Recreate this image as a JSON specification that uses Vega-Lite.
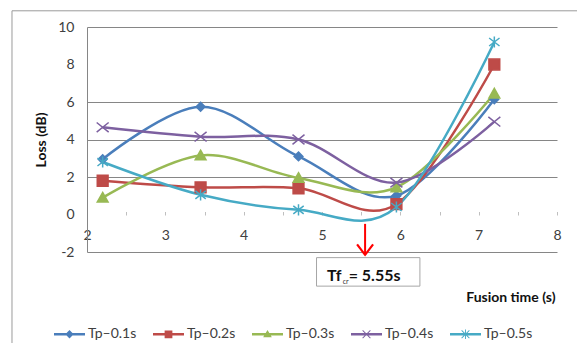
{
  "$schema": "https://vega.github.io/schema/vega-lite/v6.json",
  "width": 470,
  "height": 225,
  "autosize": {"type": "none"},
  "padding": {"left": 87, "top": 27, "right": 20, "bottom": 91},
  "background": "white",
  "config": {
    "view": {"stroke": null},
    "font": "Lato",
    "axis": {"labelFont": "Lato", "labelFontSize": 14, "labelColor": "#404040", "titleFont": "Lato", "titleFontSize": 14, "titleFontWeight": "bold", "titleColor": "#111111"}
  },
  "data": {
    "values": [
      {"series": "Tp–0.1s", "time": 2.2, "loss": 2.95},
      {"series": "Tp–0.1s", "time": 3.45, "loss": 5.75},
      {"series": "Tp–0.1s", "time": 4.7, "loss": 3.1},
      {"series": "Tp–0.1s", "time": 5.95, "loss": 1.0},
      {"series": "Tp–0.1s", "time": 7.2, "loss": 6.15},
      {"series": "Tp–0.2s", "time": 2.2, "loss": 1.8},
      {"series": "Tp–0.2s", "time": 3.45, "loss": 1.45},
      {"series": "Tp–0.2s", "time": 4.7, "loss": 1.4},
      {"series": "Tp–0.2s", "time": 5.95, "loss": 0.55},
      {"series": "Tp–0.2s", "time": 7.2, "loss": 8.0},
      {"series": "Tp–0.3s", "time": 2.2, "loss": 0.9},
      {"series": "Tp–0.3s", "time": 3.45, "loss": 3.15},
      {"series": "Tp–0.3s", "time": 4.7, "loss": 1.95},
      {"series": "Tp–0.3s", "time": 5.95, "loss": 1.45},
      {"series": "Tp–0.3s", "time": 7.2, "loss": 6.45},
      {"series": "Tp–0.4s", "time": 2.2, "loss": 4.65},
      {"series": "Tp–0.4s", "time": 3.45, "loss": 4.15},
      {"series": "Tp–0.4s", "time": 4.7, "loss": 4.0},
      {"series": "Tp–0.4s", "time": 5.95, "loss": 1.7},
      {"series": "Tp–0.4s", "time": 7.2, "loss": 4.95},
      {"series": "Tp–0.5s", "time": 2.2, "loss": 2.8},
      {"series": "Tp–0.5s", "time": 3.45, "loss": 1.05},
      {"series": "Tp–0.5s", "time": 4.7, "loss": 0.25},
      {"series": "Tp–0.5s", "time": 5.95, "loss": 0.4},
      {"series": "Tp–0.5s", "time": 7.2, "loss": 9.2}
    ]
  },
  "encoding": {
    "x": {
      "field": "time", "type": "quantitative",
      "scale": {"domain": [2, 8], "nice": false, "zero": false},
      "axis": {
        "values": [2, 2.5, 3, 3.5, 4, 4.5, 5, 5.5, 6, 6.5, 7, 7.5, 8],
        "labelExpr": "datum.value % 1 === 0 ? '' + datum.value : ''",
        "offset": -40.5,
        "domain": false,
        "grid": false,
        "tickColor": "#bfbfbf",
        "tickSize": 3.5,
        "labelPadding": 13,
        "labelFlush": false,
        "title": "Fusion time (s)",
        "titleX": 468,
        "titleY": 86,
        "titleAlign": "right",
        "titleAnchor": "end",
        "titleBaseline": "middle"
      }
    },
    "y": {
      "field": "loss", "type": "quantitative",
      "scale": {"domain": [-2, 10], "nice": false, "zero": false},
      "axis": {
        "values": [-2, 0, 2, 4, 6, 8, 10],
        "labelExpr": "'' + datum.value",
        "ticks": false,
        "labelPadding": 13,
        "domainColor": "#868686",
        "grid": true,
        "gridColor": {"condition": {"test": "datum.value == 0 || datum.value == 8", "value": "rgba(0,0,0,0)"}, "value": "#868686"},
        "gridWidth": 1,
        "title": "Loss (dB)",
        "titleX": -46,
        "titleY": 112.5,
        "titleAngle": 270,
        "titleAlign": "center",
        "titleBaseline": "middle"
      }
    }
  },
  "layer": [
    {
      "transform": [{"filter": "datum.series == 'Tp–0.1s' && datum.time == 2.2"}],
      "mark": {"type": "rect", "fill": "transparent", "stroke": "#9a9a9a", "strokeWidth": 1},
      "encoding": {
        "x": {"datum": 1.0425}, "x2": {"datum": 8.42},
        "y": {"datum": 10.864}, "y2": {"datum": -7.86}
      }
    },
    {
      "mark": {"type": "line", "interpolate": "cardinal", "strokeWidth": 2.5},
      "encoding": {
        "color": {"field": "series", "type": "nominal", "scale": {"domain": ["Tp–0.1s", "Tp–0.2s", "Tp–0.3s", "Tp–0.4s", "Tp–0.5s"], "range": ["#4A7EBB", "#BE4B48", "#98B954", "#7D60A0", "#46AAC5"]}, "legend": null}
      }
    },
    {
      "mark": {"type": "point", "filled": true, "opacity": 1, "size": 16, "strokeWidth": 1.5},
      "encoding": {
        "color": {"field": "series", "type": "nominal", "scale": {"domain": ["Tp–0.1s", "Tp–0.2s", "Tp–0.3s", "Tp–0.4s", "Tp–0.5s"], "range": ["#4A7EBB", "#BE4B48", "#98B954", "#7D60A0", "#46AAC5"]}, "legend": null},
        "stroke": {"field": "series", "type": "nominal", "scale": {"domain": ["Tp–0.1s", "Tp–0.2s", "Tp–0.3s", "Tp–0.4s", "Tp–0.5s"], "range": ["#4A7EBB", "#BE4B48", "#98B954", "#7D60A0", "#46AAC5"]}, "legend": null},
        "shape": {"field": "series", "type": "nominal", "scale": {"domain": ["Tp–0.1s", "Tp–0.2s", "Tp–0.3s", "Tp–0.4s", "Tp–0.5s"], "range": [
          "M0,-2.2L2.2,0L0,2.2L-2.2,0Z",
          "M-2.7,-2.7H2.7V2.7H-2.7Z",
          "M0,-2.6L2.7,2.2H-2.7Z",
          "M-3,-2.4L3,2.4M-3,2.4L3,-2.4",
          "M-2.6,-2L2.6,2M-2.6,2L2.6,-2M0,-2.8V2.8"
        ]}, "legend": null}
      }
    },
    {
      "data": {"values": []},
      "mark": {"type": "point", "filled": true, "opacity": 1},
      "encoding": {
        "color": {"field": "series", "type": "nominal", "scale": {"domain": ["Tp–0.1s", "Tp–0.2s", "Tp–0.3s", "Tp–0.4s", "Tp–0.5s"], "range": ["#4A7EBB", "#BE4B48", "#98B954", "#7D60A0", "#46AAC5"]},
          "legend": {"title": null, "orient": "none", "legendX": -33, "legendY": 291.5, "direction": "horizontal", "symbolSize": 961, "symbolStrokeWidth": 0, "labelFont": "Lato", "labelFontSize": 14, "labelColor": "#404040", "labelOffset": 3, "columnPadding": 16, "padding": 0}},
        "shape": {"field": "series", "type": "nominal", "scale": {"domain": ["Tp–0.1s", "Tp–0.2s", "Tp–0.3s", "Tp–0.4s", "Tp–0.5s"], "range": [
          "M-1,-0.08H1V0.08H-1Z M0,-0.27L0.27,0L0,0.27L-0.27,0Z",
          "M-1,-0.08H1V0.08H-1Z M-0.25,-0.25H0.25V0.25H-0.25Z",
          "M-1,-0.08H1V0.08H-1Z M0,-0.28L0.28,0.2H-0.28Z",
          "M-1,-0.08H1V0.08H-1Z M-0.271,-0.229L-0.229,-0.271L0.271,0.229L0.229,0.271Z M-0.229,0.271L-0.271,0.229L0.229,-0.271L0.271,-0.229Z",
          "M-1,-0.08H1V0.08H-1Z M-0.271,-0.229L-0.229,-0.271L0.271,0.229L0.229,0.271Z M-0.229,0.271L-0.271,0.229L0.229,-0.271L0.271,-0.229Z M-0.03,-0.3H0.03V0.3H-0.03Z"
        ]},
          "legend": {"title": null, "orient": "none", "legendX": -33, "legendY": 291.5, "direction": "horizontal", "symbolSize": 961, "symbolStrokeWidth": 0, "labelFont": "Lato", "labelFontSize": 14, "labelColor": "#404040", "labelOffset": 3, "columnPadding": 16, "padding": 0}}
      }
    },
    {
      "transform": [{"filter": "datum.series == 'Tp–0.1s' && datum.time == 2.2"}],
      "mark": {"type": "rule", "color": "#FF0000", "strokeWidth": 2},
      "encoding": {"x": {"datum": 5.55}, "y": {"datum": -0.5}, "y2": {"datum": -2.15}}
    },
    {
      "transform": [{"filter": "datum.series == 'Tp–0.1s' && datum.time == 2.2"}],
      "mark": {"type": "point", "shape": "M-1,-1.3L0,0L1,-1.3", "filled": false, "opacity": 1, "stroke": "#FF0000", "strokeWidth": 2.2, "size": 256},
      "encoding": {"x": {"datum": 5.55}, "y": {"datum": -2.15}}
    },
    {
      "transform": [{"filter": "datum.series == 'Tp–0.1s' && datum.time == 2.2"}],
      "mark": {"type": "rect", "fill": "white", "stroke": "#a6a6a6", "strokeWidth": 1},
      "encoding": {"x": {"datum": 4.93}, "x2": {"datum": 6.25}, "y": {"datum": -2.3}, "y2": {"datum": -3.82}}
    },
    {
      "transform": [{"filter": "datum.series == 'Tp–0.1s' && datum.time == 2.2"}],
      "mark": {"type": "text", "text": "Tf", "align": "left", "baseline": "alphabetic", "font": "Lato", "fontSize": 16, "fontWeight": "bold", "color": "#111111"},
      "encoding": {"x": {"datum": 5.064}, "y": {"datum": -3.54}}
    },
    {
      "transform": [{"filter": "datum.series == 'Tp–0.1s' && datum.time == 2.2"}],
      "mark": {"type": "text", "text": "cr", "align": "left", "baseline": "alphabetic", "font": "Lato", "fontSize": 7, "color": "#333333"},
      "encoding": {"x": {"datum": 5.265}, "y": {"datum": -3.7}}
    },
    {
      "transform": [{"filter": "datum.series == 'Tp–0.1s' && datum.time == 2.2"}],
      "mark": {"type": "text", "text": "= 5.55s", "align": "left", "baseline": "alphabetic", "font": "Lato", "fontSize": 16, "fontWeight": "bold", "color": "#111111"},
      "encoding": {"x": {"datum": 5.34}, "y": {"datum": -3.54}}
    }
  ],
  "resolve": {"scale": {"color": "independent", "shape": "independent", "stroke": "independent"}}
}
